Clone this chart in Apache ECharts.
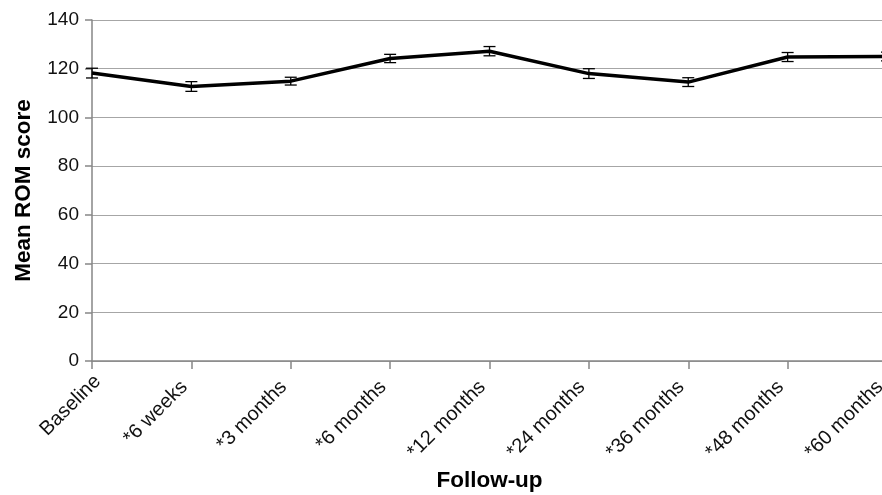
<!DOCTYPE html>
<html>
<head>
<meta charset="utf-8">
<script src="https://cdn.jsdelivr.net/npm/echarts@6/dist/echarts.min.js"></script>
<style>
  html, body { margin: 0; padding: 0; background: #fff; }
  #chart { width: 882px; height: 495px; }
</style>
</head>
<body>
<div id="chart"></div>
<script>
// Follow-up time points
const categories = ['Baseline', '*6 weeks', '*3 months', '*6 months', '*12 months',
                    '*24 months', '*36 months', '*48 months', '*60 months'];
// Mean range-of-motion score at each time point
const meanScores = [118.2, 112.7, 114.9, 124.2, 127.2, 118.0, 114.5, 124.8, 125.0];
// Half-width of the error bar at each time point
const errorHalf = [2.0, 2.0, 1.6, 1.7, 1.9, 2.0, 1.8, 1.85, 1.8];
// Y axis scale
const yMin = 0, yMax = 140, yStep = 20;

const FONT = '"Liberation Sans", Arial, sans-serif';
const errorData = categories.map((c, i) => [i, meanScores[i] - errorHalf[i], meanScores[i] + errorHalf[i]]);

const chart = echarts.init(document.getElementById('chart'), null, { renderer: 'canvas' });
chart.setOption({
  animation: false,
  backgroundColor: '#ffffff',
  grid: { left: 92, right: -5, top: 20, bottom: 134, containLabel: false, outerBoundsMode: 'none' },
  xAxis: {
    type: 'category',
    data: categories,
    boundaryGap: false,
    name: 'Follow-up',
    nameLocation: 'middle',
    nameGap: 108,
    nameTextStyle: { fontFamily: FONT, fontSize: 22.5, fontWeight: 'bold', color: '#000' },
    axisLine: { show: true, lineStyle: { color: '#868686', width: 1.5 } },
    axisTick: { show: true, alignWithLabel: true, length: 8, lineStyle: { color: '#868686', width: 1.5 } },
    axisLabel: {
      rotate: 45, margin: 30, fontFamily: FONT, fontSize: 20, lineHeight: 20,
      verticalAlign: 'bottom', color: '#111', interval: 0,
      // the first label sits a little to the right of its tick
      formatter: function (value, index) {
        return index === 0 ? '{first|' + value + '}' : value;
      },
      rich: {
        first: { fontFamily: FONT, fontSize: 20, lineHeight: 20, color: '#111', padding: [0, -13, -10, 0] }
      }
    },
    splitLine: { show: false }
  },
  yAxis: {
    type: 'value',
    min: yMin, max: yMax, interval: yStep,
    name: 'Mean ROM score',
    nameLocation: 'middle',
    nameRotate: 90,
    nameGap: 57,
    nameTextStyle: { fontFamily: FONT, fontSize: 22.5, fontWeight: 'bold', color: '#000' },
    axisLine: { show: true, lineStyle: { color: '#868686', width: 1.5 } },
    axisTick: { show: true, length: 7, lineStyle: { color: '#868686', width: 1.5 } },
    axisLabel: { margin: 13, fontFamily: FONT, fontSize: 19, color: '#111' },
    splitLine: { show: true, lineStyle: { color: '#a6a6a6', width: 1.2 } }
  },
  series: [
    {
      type: 'line',
      data: meanScores,
      symbol: 'none',
      lineStyle: { color: '#000', width: 3.5 },
      z: 3
    },
    {
      type: 'custom',
      data: errorData,
      z: 4,
      renderItem: function (params, api) {
        const x = api.value(0);
        const lo = api.coord([x, api.value(1)]);
        const hi = api.coord([x, api.value(2)]);
        const cap = 6;
        const style = { stroke: '#000', lineWidth: 1.3 };
        return {
          type: 'group',
          children: [
            { type: 'line', shape: { x1: lo[0], y1: lo[1], x2: hi[0], y2: hi[1] }, style: style },
            { type: 'line', shape: { x1: lo[0] - cap, y1: lo[1], x2: lo[0] + cap, y2: lo[1] }, style: style },
            { type: 'line', shape: { x1: hi[0] - cap, y1: hi[1], x2: hi[0] + cap, y2: hi[1] }, style: style }
          ]
        };
      }
    }
  ]
});
</script>
</body>
</html>
